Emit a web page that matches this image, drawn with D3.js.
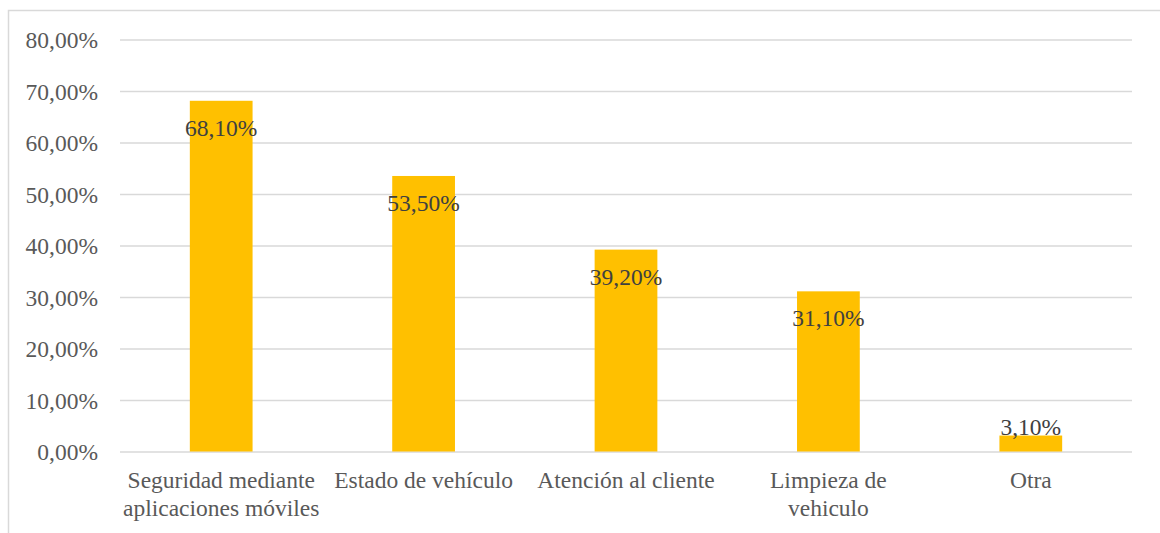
<!DOCTYPE html>
<html>
<head>
<meta charset="utf-8">
<script src="https://cdn.jsdelivr.net/npm/d3@7"></script>
<style>
  html, body { margin: 0; padding: 0; background: #fff; }
  svg { display: block; }
  svg text { font-family: "Liberation Serif", "Times New Roman", serif; }
  .axis text { fill: #595959; font-size: 23.5px; }
  .grid line { stroke: #d9d9d9; stroke-width: 1.5; }
  .label { fill: #404040; font-size: 23.5px; }
</style>
</head>
<body>
<svg id="chart"></svg>
<script>
// categories, with manual line breaks as in the original
const categories = [
    ["Seguridad mediante", "aplicaciones móviles"],
    ["Estado de vehículo"],
    ["Atención al cliente"],
    ["Limpieza de", "vehiculo"],
    ["Otra"],
];
const values = [0.681, 0.535, 0.392, 0.311, 0.031];
const valueLabels = ["68,10%", "53,50%", "39,20%", "31,10%", "3,10%"];
const yTicks = [0, 0.1, 0.2, 0.3, 0.4, 0.5, 0.6, 0.7, 0.8];

const fmt = (d) => d3.format(".2f")(d * 100).replace(".", ",") + "%";

const W = 1160, H = 533;
const margin = { top: 39.5, right: 28, bottom: 81.5, left: 120 };
const width = W - margin.left - margin.right;
const height = H - margin.top - margin.bottom;

const svg = d3.select("#chart").attr("width", W).attr("height", H);

// outer chart border
svg.append("rect")
    .attr("x", 8.5).attr("y", 10.5)
    .attr("width", W + 10).attr("height", H + 10)
    .attr("fill", "none")
    .attr("stroke", "#d9d9d9")
    .attr("stroke-width", 1.5);

const chart = svg.append("g")
    .attr("transform", `translate(${margin.left}, ${margin.top})`);

const keys = categories.map((c) => c.join(" "));

const xScale = d3.scaleBand()
    .domain(keys)
    .range([0, width])
    .paddingInner(0.69)
    .paddingOuter(0.345);

const yScale = d3.scaleLinear()
    .domain([0, 0.8])
    .range([height, 0]);

// gridlines
chart.append("g")
    .attr("class", "grid")
    .call(d3.axisLeft(yScale).tickValues(yTicks).tickSize(-width).tickFormat(""))
    .call((g) => g.select(".domain").remove());

// y labels
const yAxisGroup = chart.append("g")
    .attr("class", "axis y-axis")
    .call(d3.axisLeft(yScale).tickValues(yTicks).tickSize(0).tickPadding(22).tickFormat(fmt))
    .attr("font-family", null)
    .attr("font-size", null);
yAxisGroup.select(".domain").remove();
yAxisGroup.selectAll("text").attr("dy", "0.35em");

// bars
chart.selectAll(".bar")
    .data(values)
    .join("rect")
    .attr("class", "bar")
    .attr("x", (d, i) => xScale(keys[i]))
    .attr("width", xScale.bandwidth())
    .attr("y", (d) => yScale(d))
    .attr("height", (d) => height - yScale(d))
    .attr("fill", "#ffc000");

// value labels (inside end, clamped so short bars keep label above the axis)
chart.selectAll(".label")
    .data(values)
    .join("text")
    .attr("class", "label")
    .attr("text-anchor", "middle")
    .attr("x", (d, i) => xScale(keys[i]) + xScale.bandwidth() / 2)
    .attr("y", (d) => Math.min(yScale(d) + 35, height - 17))
    .text((d, i) => valueLabels[i]);

// x labels
const xAxisGroup = chart.append("g")
    .attr("class", "axis x-axis")
    .attr("transform", `translate(0, ${height})`)
    .call(d3.axisBottom(xScale).tickSize(0).tickFormat(""))
    .attr("font-family", null)
    .attr("font-size", null);
xAxisGroup.select(".domain").remove();

xAxisGroup.selectAll(".tick")
    .each(function (d, i) {
        const t = d3.select(this).append("text")
            .attr("text-anchor", "middle")
            .attr("y", 36);
        categories[i].forEach((line, j) => {
            t.append("tspan")
                .attr("x", 0)
                .attr("dy", j === 0 ? 0 : 28)
                .text(line);
        });
    });
</script>
</body>
</html>
